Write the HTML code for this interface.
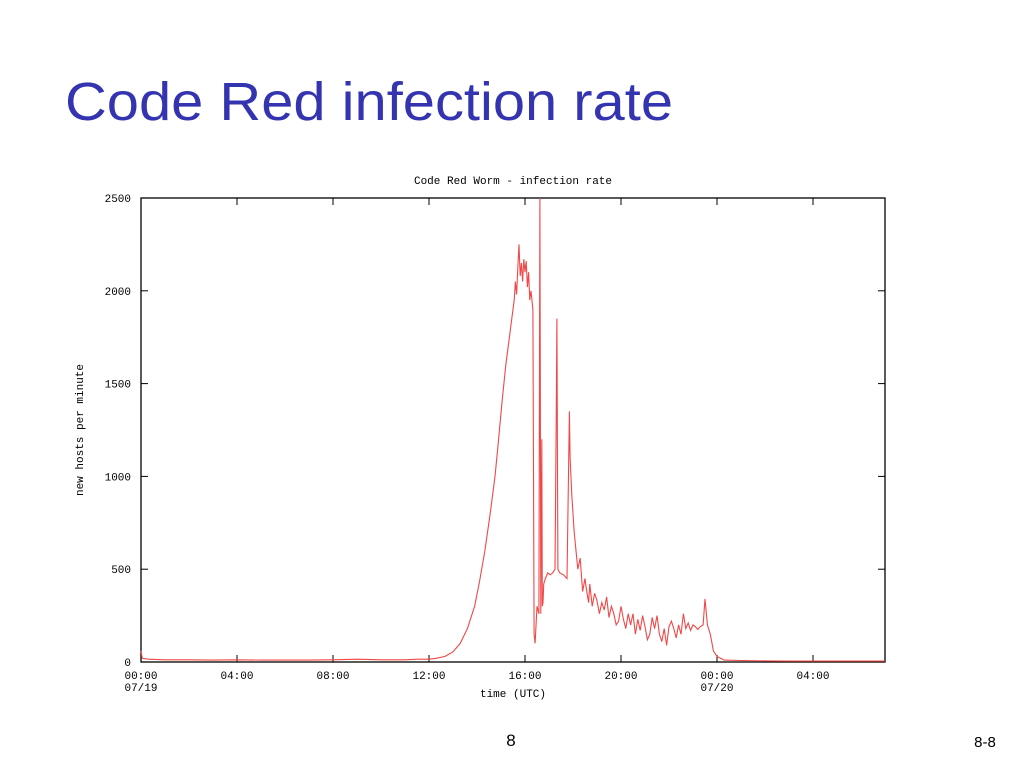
<!DOCTYPE html>
<html><head><meta charset="utf-8"><style>
html,body{margin:0;padding:0;background:#fff;}
svg{display:block;}
</style></head><body>
<svg id="chart" width="1024" height="768" xmlns="http://www.w3.org/2000/svg">
<text x="65" y="120" font-family="Liberation Sans, sans-serif" font-size="54" fill="#3434b0" textLength="608" lengthAdjust="spacingAndGlyphs">Code Red infection rate</text>
<text x="513" y="184" text-anchor="middle" font-family="Liberation Mono, monospace" font-size="11" fill="#000">Code Red Worm - infection rate</text>
<rect x="141" y="198" width="744" height="464" fill="none" stroke="#000" stroke-width="1.3"/>
<g id="axes"></g>
<path id="series" fill="none" stroke="#f04848" stroke-width="1.1"/>
<text x="513" y="697" text-anchor="middle" font-family="Liberation Mono, monospace" font-size="11">time (UTC)</text>
<text transform="translate(83,430) rotate(-90)" text-anchor="middle" font-family="Liberation Mono, monospace" font-size="11">new hosts per minute</text>
<text x="511" y="746" text-anchor="middle" font-family="Liberation Sans, sans-serif" font-size="17">8</text>
<text x="985" y="747" text-anchor="middle" font-family="Liberation Sans, sans-serif" font-size="15">8-8</text>
</svg>
<script>
const yTicks = [0, 500, 1000, 1500, 2000, 2500];
const xTickHours = [0, 4, 8, 12, 16, 20, 24, 28];
const xTickLabels = ["00:00", "04:00", "08:00", "12:00", "16:00", "20:00", "00:00", "04:00"];
const xTickDates = ["07/19", "", "", "", "", "", "07/20", ""];
const hours = [0,0.05,0.3,1,2,3,4,5,6,7,8,9,10,11,11.5,12,12.3,12.67,13,13.3,13.6,13.9,14.1,14.33,14.55,14.75,14.9,15.04,15.2,15.3,15.45,15.55,15.6,15.65,15.7,15.75,15.8,15.85,15.9,15.95,16.0,16.05,16.1,16.15,16.2,16.25,16.33,16.38,16.42,16.5,16.58,16.62,16.66,16.7,16.72,16.75,16.78,16.85,16.95,17.05,17.15,17.25,17.3,17.33,17.37,17.45,17.6,17.75,17.85,17.88,17.95,18.05,18.2,18.3,18.4,18.5,18.55,18.65,18.7,18.8,18.9,19.0,19.1,19.2,19.3,19.4,19.5,19.6,19.7,19.8,19.9,20.0,20.1,20.2,20.3,20.4,20.5,20.6,20.7,20.8,20.9,21.0,21.1,21.2,21.3,21.4,21.5,21.6,21.7,21.8,21.9,22.0,22.1,22.2,22.3,22.4,22.5,22.6,22.7,22.8,22.9,23.0,23.1,23.2,23.3,23.42,23.5,23.6,23.72,23.85,24.0,24.3,25,26,27,28,29,30,31];
const values = [60,20,15,12,12,10,12,10,10,10,12,15,12,12,15,15,20,30,55,100,180,300,430,600,800,1000,1200,1400,1600,1700,1850,1950,2050,1980,2120,2250,2080,2150,2050,2170,2100,2160,2020,2100,1950,2000,1900,150,100,300,260,2500,260,1200,300,320,420,450,480,470,480,500,1300,1850,500,480,470,450,1350,1100,900,700,500,560,380,450,400,320,420,300,370,330,260,320,280,350,240,300,260,200,220,300,230,180,260,200,260,150,230,170,250,190,120,150,240,180,250,150,110,180,90,190,220,180,130,200,150,260,180,210,170,200,190,175,190,200,340,200,150,60,30,10,8,6,5,5,5,5,5];
const X = h => 141 + h * 24;
const Y = v => 662 - v * (464 / 2500);
const NS = "http://www.w3.org/2000/svg";
const ax = document.getElementById("axes");
function add(tag, attrs, txt){ const e=document.createElementNS(NS,tag); for(const k in attrs) e.setAttribute(k,attrs[k]); if(txt!==undefined) e.textContent=txt; ax.appendChild(e); return e; }
yTicks.forEach(v=>{
  const y=Y(v);
  if(v>0&&v<2500){
    const t1=add("line",{x1:141,x2:148,y1:y,y2:y,stroke:"#000"});
    
    
    const t2=add("line",{x1:878,x2:885,y1:y,y2:y,stroke:"#000"});
    
    
  }
  const l=add("text",{x:131,y:y+4,"text-anchor":"end","font-family":"Liberation Mono, monospace","font-size":"11"},String(v));
  
  
});
xTickHours.forEach((h,i)=>{
  const x=X(h);
  if(h>0){
    const t1=add("line",{x1:x,x2:x,y1:198,y2:205,stroke:"#000"});
    
    
    const t2=add("line",{x1:x,x2:x,y1:655,y2:662,stroke:"#000"});
    
    
  }
  const l=add("text",{x:x,y:679,"text-anchor":"middle","font-family":"Liberation Mono, monospace","font-size":"11"},xTickLabels[i]);
  
  
  if(xTickDates[i]){
    const d=add("text",{x:x,y:691,"text-anchor":"middle","font-family":"Liberation Mono, monospace","font-size":"11"},xTickDates[i]);
    
    
  }
});
document.getElementById("series").setAttribute("d", hours.map((h,i)=>(i?"L":"M")+X(h).toFixed(1)+","+Y(values[i]).toFixed(1)).join(""));
</script>
</body></html>
